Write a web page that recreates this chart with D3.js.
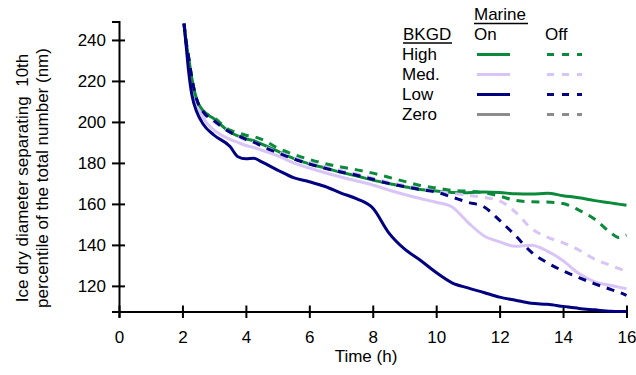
<!DOCTYPE html>
<html lang="en">
<head>
    <meta charset="UTF-8">
    <title>Ice dry diameter vs time</title>
    <script src="https://d3js.org/d3.v7.min.js" charset="utf-8"></script>
    <style>
        body { margin: 0; background: #fff; }
        svg { display: block; font-family: 'Liberation Sans', Arial, sans-serif; }
    </style>
</head>
<body>
    <div id="chart"></div>
    <script>

    // time axis shared by every series (h)
    var times = [2.05, 2.1, 2.2, 2.3, 2.45, 2.65, 3.0, 3.5, 3.75, 4.0, 4.25, 4.5,
                 5.0, 5.5, 6.0, 6.5, 7.0, 7.5, 8.0, 8.5, 9.0, 9.5, 10.0, 10.5,
                 11.0, 11.5, 12.0, 12.5, 13.0, 13.5, 14.0, 14.5, 15.0, 15.5, 15.75, 16.0];

    // diameter (nm) per background level, marine on / off
    var highOn  = [248, 241, 231, 221, 211, 205.5, 201.5, 195, 193.2, 191.8, 190.8, 189.2,
                   185.8, 182.2, 179.5, 177.5, 175.4, 173.6, 171.6, 170, 168.4, 167, 166.3, 165.6,
                   165.5, 165.8, 165.6, 164.9, 164.8, 165.2, 164, 163, 161.6, 160.5, 159.9, 159.3];
    var highOff = [248, 241, 231, 221, 211, 205.5, 202, 196, 194.7, 193.5, 192.8, 191.5,
                   187.3, 184.2, 181.7, 179.6, 178, 176.6, 175, 173, 171, 169, 167.8, 166.6,
                   166.2, 165.5, 163.8, 161.7, 161, 160.9, 160.2, 157, 152.5, 146, 143.6, 144.8];
    var medOn   = [248, 240, 228, 218, 209, 202, 196, 191.5, 190, 188.5, 187.5, 186.2,
                   183.5, 180, 177.5, 175.2, 173.1, 171.2, 169.2, 166.8, 164.6, 162.6, 160.8, 158.5,
                   151, 144.5, 141.5, 139.3, 139.8, 137, 132.3, 126, 122, 120.2, 119.4, 118.6];
    var medOff  = [248, 241, 230, 220, 210.5, 204, 200, 195, 193, 191, 190, 188.3,
                   185.3, 182.6, 180.2, 178.2, 176.3, 174.6, 172.6, 170.6, 169, 167.5, 166.2, 165.2,
                   164.2, 163.2, 161.5, 156, 148, 143.8, 141, 137.5, 133, 130, 128.5, 127.2];
    var lowOn   = [248, 240, 224, 213, 205, 199, 193.5, 188, 183, 182, 182.3, 180.5,
                   176.5, 172.8, 170.8, 168.5, 165.3, 162.5, 158, 146, 138, 132.5, 126.5, 121.5,
                   119, 116.8, 114.5, 113, 111.5, 111, 110, 109, 108.3, 107.6, 107.5, 107.5];
    var lowOff  = [248, 241, 231, 221, 211, 205, 200.5, 195, 193.3, 191.5, 190.2, 188.2,
                   185, 182, 179.5, 177.4, 175.6, 174, 172, 170, 168.5, 167, 165.8, 163.3,
                   160.8, 158.6, 152, 144.5, 136.5, 131.3, 127.3, 124, 121, 118.3, 117, 115.4];

    var levels = ['High', 'Med.', 'Low', 'Zero'];
    var levelColors = ['#0a8a3a', '#d9c4f6', '#000080', '#8c8c8c'];
    var xTicks = [0, 2, 4, 6, 8, 10, 12, 14, 16];
    var yTicks = [120, 140, 160, 180, 200, 220, 240];

    // draw order of the plotted series
    var series = [
        {values: medOn,   level: 1, dashed: false},
        {values: highOn,  level: 0, dashed: false},
        {values: medOff,  level: 1, dashed: true},
        {values: highOff, level: 0, dashed: true},
        {values: lowOn,   level: 2, dashed: false},
        {values: lowOff,  level: 2, dashed: true}
    ];

    var width = 636, height = 375;
    var dash = '8,7';

    var svg = d3.select('#chart')
                .append('svg')
                .attr('width', width)
                .attr('height', height);

    var x = d3.scaleLinear().domain([0, 16]).range([119, 626.5]);
    var y = d3.scaleLinear().domain([107.5, 249]).range([311.5, 21.5]);

    // x axis, ticks crossing the line
    var xAxis = svg.append('g')
        .attr('transform', 'translate(0,' + y(107.5) + ')')
        .call(d3.axisBottom(x).tickValues(xTicks).tickSizeOuter(0).tickSize(6));
    xAxis.selectAll('.tick line').attr('y1', -6).attr('y2', 6.5);
    xAxis.selectAll('.tick text').attr('y', 19).attr('dy', '0.71em');

    // y axis
    var yAxis = svg.append('g')
        .attr('transform', 'translate(' + x(0) + ',0)')
        .call(d3.axisLeft(y).tickValues(yTicks).tickSizeOuter(0).tickSize(7).tickPadding(6));
    yAxis.selectAll('.tick line').attr('x1', -7).attr('x2', 6);

    svg.selectAll('.domain, .tick line')
        .attr('stroke', '#000')
        .attr('stroke-width', 2);
    svg.selectAll('.tick text')
        .attr('fill', '#000')
        .style('font-size', '17px')
        .style('font-family', "'Liberation Sans', Arial, sans-serif");

    // axis titles
    svg.append('text')
        .attr('x', 366)
        .attr('y', 362)
        .attr('text-anchor', 'middle')
        .style('font-size', '17px')
        .text('Time (h)');

    var yTitle = svg.append('text')
        .attr('transform', 'translate(0,178) rotate(-90)')
        .attr('text-anchor', 'middle')
        .style('font-size', '17px')
        .style('white-space', 'pre');
    yTitle.append('tspan').attr('x', 0).attr('y', 28).text('Ice dry diameter separating  10th');
    yTitle.append('tspan').attr('x', 0).attr('y', 48).text('percentile of the total number (nm)');

    // data lines
    var line = d3.line()
        .x(function(d) { return x(d[0]); })
        .y(function(d) { return y(d[1]); })
        .curve(d3.curveMonotoneX);

    svg.selectAll('.series')
        .data(series)
        .enter()
        .append('path')
        .attr('class', 'series')
        .attr('fill', 'none')
        .attr('stroke', function(d) { return levelColors[d.level]; })
        .attr('stroke-width', 3)
        .attr('stroke-dasharray', function(d) { return d.dashed ? dash : null; })
        .attr('d', function(d) { return line(times.map(function(t, i) { return [t, d.values[i]]; })); });

    // legend
    var legend = svg.append('g').style('font-size', '17px');

    legend.append('text').attr('x', 474).attr('y', 20).text('Marine');
    legend.append('line').attr('x1', 474).attr('x2', 528).attr('y1', 23.5).attr('y2', 23.5)
        .attr('stroke', '#000').attr('stroke-width', 1.5);
    legend.append('text').attr('x', 403).attr('y', 40).text('BKGD');
    legend.append('line').attr('x1', 403).attr('x2', 452).attr('y1', 43).attr('y2', 43)
        .attr('stroke', '#000').attr('stroke-width', 1.5);
    legend.append('text').attr('x', 474).attr('y', 40).text('On');
    legend.append('text').attr('x', 545).attr('y', 40).text('Off');

    var rows = legend.selectAll('.row')
        .data(levels)
        .enter()
        .append('g')
        .attr('class', 'row')
        .attr('transform', function(d, i) { return 'translate(0,' + (60 + i * 20) + ')'; });

    rows.append('text').attr('x', 402).attr('y', 0).text(function(d) { return d; });
    rows.append('line')
        .attr('x1', 477).attr('x2', 510).attr('y1', -5.5).attr('y2', -5.5)
        .attr('stroke', function(d, i) { return levelColors[i]; })
        .attr('stroke-width', 3);
    rows.append('line')
        .attr('x1', 547).attr('x2', 582).attr('y1', -5.5).attr('y2', -5.5)
        .attr('stroke', function(d, i) { return levelColors[i]; })
        .attr('stroke-width', 3)
        .attr('stroke-dasharray', '7,8');

    </script>
</body>
</html>
